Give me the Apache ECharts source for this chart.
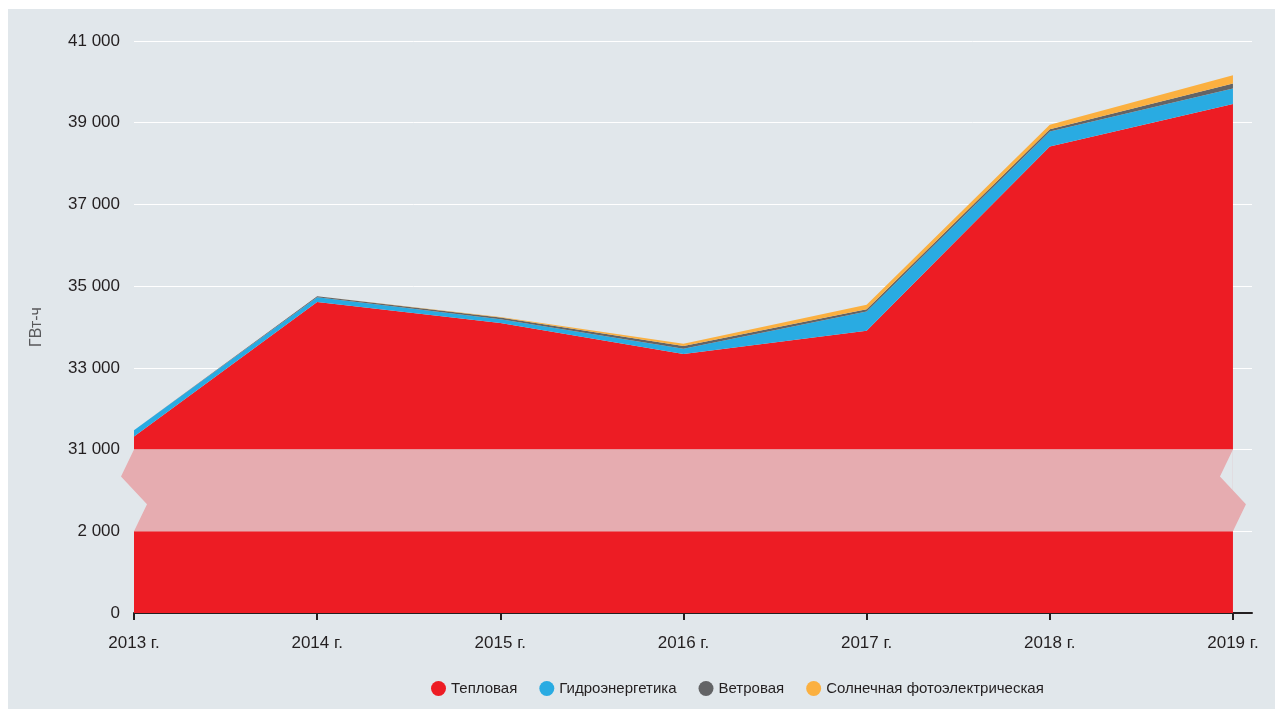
<!DOCTYPE html>
<html>
<head>
<meta charset="utf-8">
<script src="https://cdn.jsdelivr.net/npm/echarts@6/dist/echarts.min.js"></script>
<style>
  html, body { margin: 0; padding: 0; background: #fff; }
  #chart { position: absolute; left: 8px; top: 9px; width: 1267px; height: 700px; background: #e1e7eb; }
</style>
</head>
<body>
<div id="chart"></div>
<script>
// годы
const years = [2013, 2014, 2015, 2016, 2017, 2018, 2019]
// ГВт-ч по видам генерации
const thermal = [31320, 34610, 34100, 33340, 33910, 38420, 39460]
const hydro = [150, 120, 90, 130, 470, 366, 375]
const wind = [5, 20, 40, 65, 57, 57, 122]
const solar = [0, 5, 15, 57, 105, 106, 203]
// подписи оси Y (реальные значения)
const yTicks = [0, 2000, 31000, 33000, 35000, 37000, 39000, 41000]

const names = ['Тепловая', 'Гидроэнергетика', 'Ветровая', 'Солнечная фотоэлектрическая']
const colors = ['#ed1c24', '#29abe2', '#636466', '#fbb040']
const bg = '#e1e7eb'
const font = "'Liberation Sans', Arial, sans-serif"

// разрыв оси: 2000..31000 сжато в один шаг
const BREAK_LO = 2000
const BREAK_HI = 31000
function toAxis(v) {
  if (v <= BREAK_LO) return v
  if (v >= BREAK_HI) return v - (BREAK_HI - BREAK_LO - 2000)
  return BREAK_LO + (v - BREAK_LO) * 2000 / (BREAK_HI - BREAK_LO)
}
function fmt(n) {
  return String(n).replace(/\B(?=(\d{3})+(?!\d))/g, ' ')
}
const axisToLabel = {}
yTicks.forEach(function (t) { axisToLabel[toAxis(t)] = fmt(t) })

// [значение, год] -- значение первым, чтобы stack шёл по оси Y
function pairs(arr, fn) {
  return years.map(function (y, i) { return [fn ? fn(arr[i]) : arr[i], y] })
}

const chart = echarts.init(document.getElementById('chart'))
const seriesData = [pairs(thermal, toAxis), pairs(hydro), pairs(wind), pairs(solar)]

const option = {
  backgroundColor: bg,
  animation: false,
  color: colors,
  textStyle: { fontFamily: font },
  grid: { left: 126, right: 23, top: 32, bottom: 96 },
  legend: {
    left: 418,
    top: 667,
    icon: 'circle',
    itemWidth: 15,
    itemHeight: 15,
    itemGap: 22,
    textStyle: { fontSize: 15, color: '#231f20', fontFamily: font },
    data: names
  },
  xAxis: {
    type: 'value',
    min: 2013,
    max: 2019.104,
    interval: 1,
    splitLine: { show: false },
    axisLine: { lineStyle: { color: '#231f20', width: 2 } },
    axisTick: {
      show: true,
      length: 7,
      lineStyle: { color: '#231f20', width: 2 },
      customValues: years
    },
    axisLabel: {
      customValues: years,
      formatter: function (v) { return v + ' г.' },
      fontSize: 17,
      color: '#231f20',
      margin: 22,
      fontFamily: font
    }
  },
  yAxis: {
    type: 'value',
    min: 0,
    max: 14000,
    interval: 2000,
    name: 'ГВт-ч',
    nameLocation: 'middle',
    nameGap: 89,
    nameTextStyle: { fontSize: 16, color: '#58595b', fontFamily: font },
    axisLine: { show: false },
    axisTick: { show: false },
    splitLine: { lineStyle: { color: '#ffffff', width: 1 } },
    axisLabel: {
      formatter: function (v) { return axisToLabel[v] || '' },
      fontSize: 17,
      color: '#231f20',
      margin: 14,
      fontFamily: font
    }
  },
  series: names.map(function (n, i) {
    return {
      name: n,
      type: 'line',
      stack: 'total',
      data: seriesData[i],
      encode: { x: 1, y: 0 },
      showSymbol: false,
      symbol: 'circle',
      lineStyle: { width: 0 },
      areaStyle: { color: colors[i], opacity: 1 },
      itemStyle: { color: colors[i] }
    }
  })
}
chart.setOption(option)

// полоса разрыва с зигзагом по краям
const pL = chart.convertToPixel({ gridIndex: 0 }, [2013, toAxis(BREAK_HI)])
const pR = chart.convertToPixel({ gridIndex: 0 }, [2019, toAxis(BREAK_LO)])
const bandTop = pL[1]
const bandBot = pR[1]
const bandH = bandBot - bandTop
function zigzag(x) {
  return [[x, bandTop], [x - 13, bandTop + bandH * 0.33], [x + 13, bandTop + bandH * 0.67], [x, bandBot]]
}
const leftEdge = zigzag(pL[0])
const rightEdge = zigzag(pR[0]).reverse()
chart.setOption({
  graphic: [{
    type: 'rect',
    z: 99,
    shape: { x: pL[0], y: bandTop, width: pR[0] - pL[0], height: bandH },
    style: { fill: bg }
  }, {
    type: 'polygon',
    z: 100,
    shape: { points: leftEdge.concat(rightEdge) },
    style: { fill: '#e6acb0' }
  }]
})
</script>
</body>
</html>
